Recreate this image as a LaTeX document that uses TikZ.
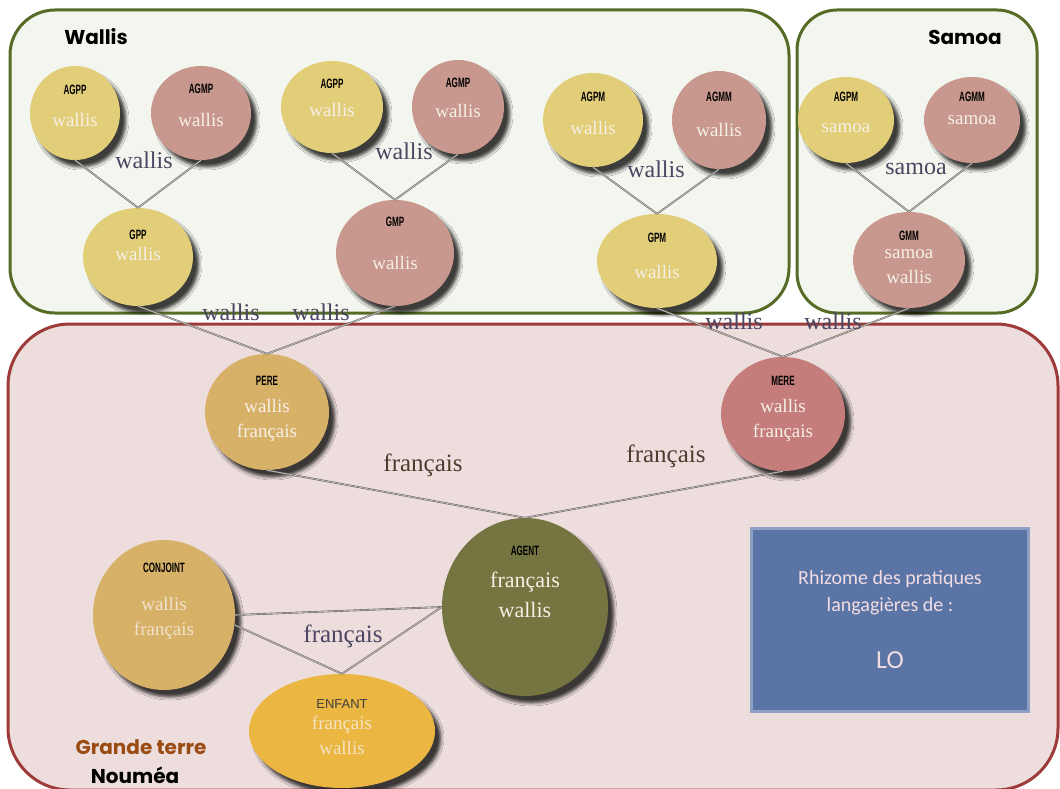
\documentclass[tikz,border=0pt]{standalone}
\usepackage{fontspec}
\setmainfont{Liberation Serif}
\newfontfamily\tagfont[FakeStretch=0.6]{Liberation Sans}
\newfontfamily\plainsans{Liberation Sans}
\newfontfamily\headfont{Poppins}
\newfontfamily\boxfont{Carlito}
\usetikzlibrary{shapes.geometric,shadows.blur}

\definecolor{wallisgreen}{HTML}{566B26}
\definecolor{wallisbg}{HTML}{F3F6EE}
\definecolor{terrered}{HTML}{9E3A3A}
\definecolor{terrebg}{HTML}{EDDDDD}
\definecolor{terrebrown}{HTML}{9A4B12}
\definecolor{paleyellow}{HTML}{E2CD79}
\definecolor{palepink}{HTML}{C8978D}
\definecolor{perecol}{HTML}{D8B168}
\definecolor{merecol}{HTML}{C57D7B}
\definecolor{agentcol}{HTML}{747540}
\definecolor{enfantcol}{HTML}{EBB641}
\definecolor{langwhite}{HTML}{F6F0E6}
\definecolor{linkgray}{HTML}{6C6864}
\definecolor{linkfill}{HTML}{CFCBC7}
\definecolor{saypurple}{HTML}{4A4560}
\definecolor{saybrown}{HTML}{4D3C2C}
\definecolor{rhizomeblue}{HTML}{5B74A6}
\definecolor{rhizomeedge}{HTML}{8D9FC4}
\definecolor{rhizometext}{HTML}{F2DDE2}

\begin{document}
\begin{tikzpicture}[x=1pt,y=-1pt]
  \tikzset{
    node distance=126pt,
    person/.style={ellipse,inner sep=0pt,
      blur shadow={shadow xshift=6pt,shadow yshift=-7pt,shadow blur radius=3pt,shadow opacity=75}},
    yel/.style={person,fill=paleyellow},
    pnk/.style={person,fill=palepink},
    dims/.style 2 args={minimum width=#1,minimum height=#2},
    whotag/.style={font=\tagfont\bfseries\fontsize{13.5}{13.5}\selectfont,text=black,inner sep=0pt},
    tag/.style 2 args={label={[whotag,label distance=#2]90:#1}},
    langtext/.style={align=center,text=langwhite,font=\fontsize{19}{25}\selectfont,inner sep=0pt},
    langs/.style 2 args={label={[langtext,yshift=#2]center:#1}},
    link/.style={draw=linkgray,line width=0.6pt,double=linkfill,double distance=0.6pt},
    say/.style={text=saypurple,font=\fontsize{24}{24}\selectfont,inner sep=0pt},
    head/.style={font=\headfont\bfseries\fontsize{20}{20}\selectfont,text=black,inner sep=0pt}
  }

  \useasboundingbox (0,0) rectangle (1060,789);
  \clip (0,0) rectangle (1060,789);

  % places
  \draw[wallisgreen,line width=3pt,fill=wallisbg,rounded corners=45pt] (10,10) rectangle (789,313);
  \draw[wallisgreen,line width=3pt,fill=wallisbg,rounded corners=40pt] (797,10) rectangle (1037,313);
  \draw[terrered,line width=3pt,fill=terrebg,rounded corners=62pt] (8,324) rectangle (1058,790);

  \node[head] (wal) at (96,37) {Wallis};
  \node[head] (sam) at (965,37) {Samoa};
  \node[head,text=terrebrown] (gt) at (141,747) {Grande terre};
  \node[head] (nou) at (135,775) {Nouméa};

  % grands-parents
  \node[yel,tag={AGPP}{-29pt},langs={wallis}{-7pt},dims={90pt}{94pt}] (agpp1) at (75,113) {};
  \node[pnk,tag={AGMP}{-28pt},langs={wallis}{-7pt},dims={100pt}{94pt},right of=agpp1] (agmp1) {};
  \node[yel,tag={GPP}{-32pt},langs={wallis}{3pt},dims={110pt}{98pt}] (gpp) at (138,257) {};

  \node[yel,tag={AGPP}{-28pt},langs={wallis}{-3pt},dims={102pt}{92pt}] (agpp2) at (332,107) {};
  \node[pnk,tag={AGMP}{-28pt},langs={wallis}{-4pt},dims={92pt}{94pt},right of=agpp2] (agmp2) {};
  \node[pnk,tag={GMP}{-27pt},langs={wallis}{-10pt},dims={118pt}{106pt}] (gmp) at (395,253) {};

  \node[yel,tag={AGPM}{-29pt},langs={wallis}{-8pt},dims={100pt}{94pt}] (agpm1) at (593,120) {};
  \node[pnk,tag={AGMM}{-31pt},langs={wallis}{-10pt},dims={94pt}{98pt},right of=agpm1] (agmm1) {};
  \node[yel,tag={GPM}{-29pt},langs={wallis}{-11pt},dims={120pt}{94pt}] (gpm) at (657,261) {};

  \node[yel,tag={AGPM}{-25pt},langs={samoa}{-8pt},dims={96pt}{86pt}] (agpm2) at (846,120) {};
  \node[pnk,tag={AGMM}{-25pt},langs={samoa}{0pt},dims={96pt}{86pt},right of=agpm2] (agmm2) {};
  \node[pnk,tag={GMM}{-29pt},langs={samoa\\wallis}{-7pt},dims={112pt}{96pt}] (gmm) at (909,260) {};

  % parents, agent, famille
  \node[person,fill=perecol,tag={PERE}{-32pt},langs={wallis\\français}{-8pt},dims={124pt}{116pt}] (pere) at (267,412) {};
  \node[person,fill=merecol,tag={MERE}{-29pt},langs={wallis\\français}{-6pt},dims={124pt}{114pt}] (mere) at (783,414) {};
  \node[person,fill=agentcol,tag={AGENT}{-38pt},dims={166pt}{178pt},
        label={[langtext,font=\fontsize{22}{30}\selectfont,yshift=12pt]center:français\\wallis}] (agent) at (525,607) {};
  \node[person,fill=perecol,tag={CONJOINT}{-33pt},dims={142pt}{150pt},
        label={[langtext,text=langwhite!80!perecol,yshift=-3pt]center:wallis\\français}] (conj) at (164,615) {};
  \node[person,fill=enfantcol,dims={186pt}{114pt},
        label={[font=\plainsans\fontsize{13}{13}\selectfont,text=black!75,inner sep=0pt,label distance=-35pt]90:ENFANT},
        label={[langtext,text=langwhite!80!enfantcol,yshift=-4pt]center:français\\wallis}] (enfant) at (342,731) {};

  \draw (agpp1.south) edge[link] (gpp.north)
        (agmp1.south) edge[link] (gpp.north)
        (agpp2.south) edge[link] (gmp.north)
        (agmp2.south) edge[link] (gmp.north)
        (agpm1.south) edge[link] (gpm.north)
        (agmm1.south) edge[link] (gpm.north)
        (agpm2.south) edge[link] (gmm.north)
        (agmm2.south) edge[link] (gmm.north)
        (gpp.south) edge[link] (pere.north)
        (gmp.south) edge[link] (pere.north)
        (gpm.south) edge[link] (mere.north)
        (gmm.south) edge[link] (mere.north)
        (pere.south) edge[link] (agent.north)
        (mere.south) edge[link] (agent.north)
        (conj.east) edge[link] (agent.west)
        (conj.-8) edge[link] (enfant.north)
        (agent.west) edge[link] (enfant.north);

  % langues transmises
  \node[say] (s1) at (144,160) {wallis};
  \node[say] (s2) at (404,151) {wallis};
  \node[say] (s3) at (656,169) {wallis};
  \node[say] (s4) at (916,169) {samoa};
  \node[say] (s5) at (231,312) {wallis};
  \node[say] (s6) at (321,312) {wallis};
  \node[say] (s7) at (734,321) {wallis};
  \node[say] (s8) at (833,321) {wallis};
  \node[say,text=saybrown,font=\fontsize{25}{25}\selectfont] (s9) at (423,465) {français};
  \node[say,text=saybrown,font=\fontsize{25}{25}\selectfont] (s10) at (666,456) {français};
  \node[say,font=\fontsize{25}{25}\selectfont] (s11) at (343,636) {français};

  \node[draw=rhizomeedge,line width=2.5pt,fill=rhizomeblue,text=rhizometext,align=center,
        minimum width=277pt,minimum height=183pt,font=\boxfont\fontsize{20}{27}\selectfont] (lo)
        at (890,620) {Rhizome des pratiques\\langagières de :\\[30pt]{\fontsize{26}{27}\selectfont LO}};
\end{tikzpicture}
\end{document}
